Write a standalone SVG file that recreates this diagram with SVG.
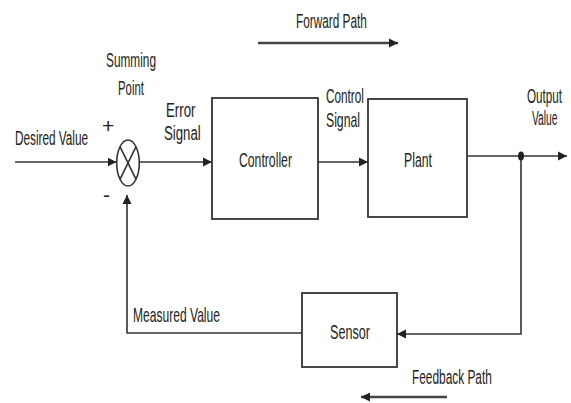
<svg xmlns="http://www.w3.org/2000/svg" width="571" height="403" viewBox="0 0 571 403">
  <defs>
    <style>
      text { font-family: "Liberation Sans", Arial, sans-serif; font-size: 21px; fill: #222; }
      .box { fill: #fff; stroke: #333; stroke-width: 1.8; }
      .wire { fill: none; stroke: #333; stroke-width: 1.6; }
      .path { fill: none; stroke: #444; stroke-width: 2.6; }
    </style>
    <marker id="ah" viewBox="0 0 10 10" refX="10" refY="5" markerUnits="userSpaceOnUse" markerWidth="9" markerHeight="12" orient="auto">
      <path d="M0,0 L10,5 L0,10 z" fill="#222"/>
    </marker>
  </defs>
  <rect width="571" height="403" fill="#fff"/>

  <g id="connectors">
    <line class="wire" x1="15" y1="162" x2="116.5" y2="162" marker-end="url(#ah)"/>
    <line class="wire" x1="139.5" y1="162" x2="212" y2="162" marker-end="url(#ah)"/>
    <line class="wire" x1="318" y1="162" x2="368" y2="162" marker-end="url(#ah)"/>
    <line class="wire" x1="467" y1="156" x2="567" y2="156" marker-end="url(#ah)"/>
    <polyline class="wire" points="521,156 521,334 397,334" marker-end="url(#ah)"/>
    <polyline class="wire" points="302,333 127,333 127,195" marker-end="url(#ah)"/>
    <line class="path" x1="258" y1="43" x2="398" y2="43" marker-end="url(#ah)"/>
    <line class="path" x1="447" y1="397" x2="361" y2="397" marker-end="url(#ah)"/>
    <ellipse cx="521" cy="156" rx="3" ry="4.5" fill="#222"/>
  </g>

  <g id="summing-point">
    <ellipse class="wire" cx="128" cy="163" rx="11.3" ry="23"/>
    <line class="wire" x1="120" y1="146.7" x2="136" y2="179.3"/>
    <line class="wire" x1="136" y1="146.7" x2="120" y2="179.3"/>
  </g>

  <g id="controller">
    <rect class="box" x="212" y="98" width="106" height="121"/>
    <text transform="translate(239,166.5) scale(0.582,1)">Controller</text>
  </g>

  <g id="plant">
    <rect class="box" x="368" y="99" width="99" height="118"/>
    <text transform="translate(404,166.5) scale(0.585,1)">Plant</text>
  </g>

  <g id="sensor">
    <rect class="box" x="302" y="293" width="95" height="74"/>
    <text transform="translate(330,339) scale(0.6,1)">Sensor</text>
  </g>

  <g id="labels">
    <text transform="translate(296,28) scale(0.563,1)">Forward Path</text>
    <text transform="translate(106,66.5) scale(0.564,1)">Summing</text>
    <text transform="translate(118,94.5) scale(0.543,1)">Point</text>
    <text font-size="20" transform="translate(166,116.5) scale(0.63,1)">Error</text>
    <text font-size="20" transform="translate(164,139.5) scale(0.63,1)">Signal</text>
    <text transform="translate(15,145) scale(0.561,1)">Desired Value</text>
    <text x="102" y="133" font-size="13">+</text>
    <text x="103" y="202" font-size="17">-</text>
    <text transform="translate(326,102.5) scale(0.561,1)">Control</text>
    <text transform="translate(326,126.5) scale(0.582,1)">Signal</text>
    <text transform="translate(527,103) scale(0.556,1)">Output</text>
    <text transform="translate(532,125) scale(0.49,1)">Value</text>
    <text transform="translate(133,321.5) scale(0.575,1)">Measured Value</text>
    <text transform="translate(412,384) scale(0.566,1)">Feedback Path</text>
  </g>
</svg>
